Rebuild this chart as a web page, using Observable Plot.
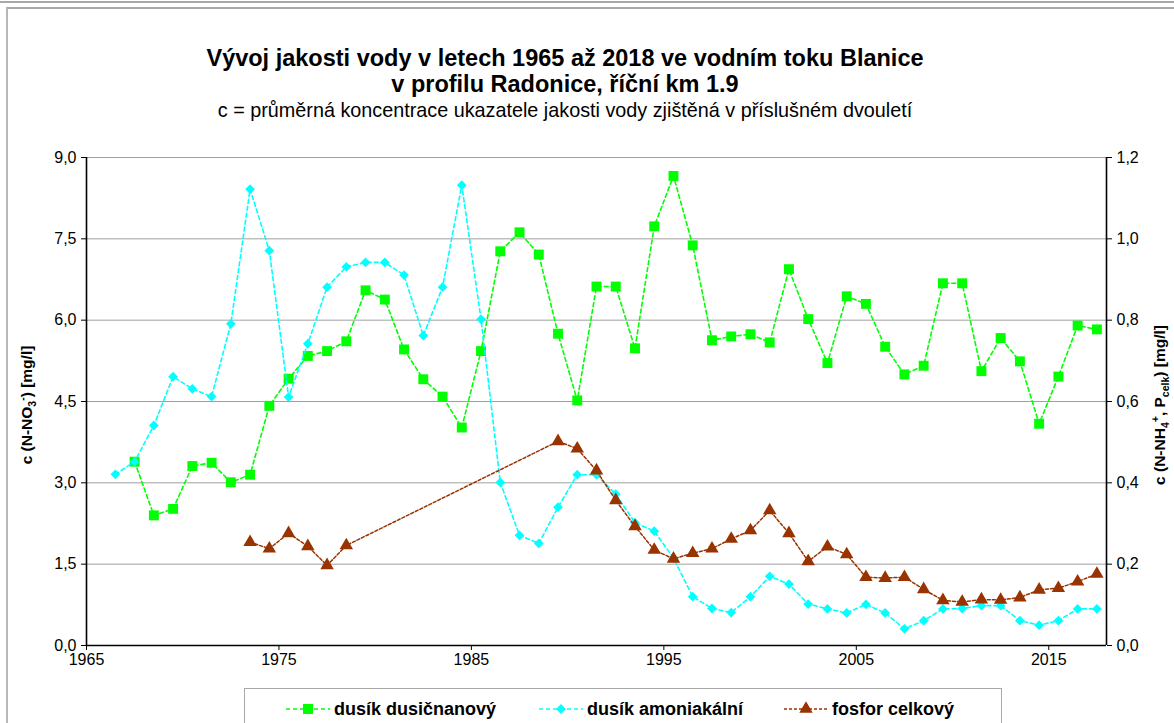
<!DOCTYPE html>
<html>
<head>
<meta charset="utf-8">
<script src="https://cdn.jsdelivr.net/npm/d3@7"></script>
<script src="https://cdn.jsdelivr.net/npm/@observablehq/plot@0.6"></script>
<style>
  html, body { margin: 0; padding: 0; background: #fff; }
  body { width: 1174px; height: 723px; position: relative; overflow: hidden; font-family: "Liberation Sans", Arial, sans-serif; color: #000; }
  .topline { position: absolute; left: 0; top: 1px; width: 1174px; height: 0; border-top: 2px solid #a8a8a8; }
  .box { position: absolute; left: 6px; top: 7px; width: 1200px; height: 800px; border-left: 2px solid #b8b8b8; border-top: 2px solid #a8a8a8; }
  .title { position: absolute; left: 0; width: 1130px; text-align: center; font-weight: bold; font-size: 23.5px; line-height: 26px; }
  .sub { position: absolute; left: 0; width: 1130px; text-align: center; font-size: 19.8px; line-height: 22px; }
  #chart { position: absolute; left: 0; top: 130px; }
  #chart svg text { font-size: 16px !important; font-family: "Liberation Sans", Arial, sans-serif !important; fill: #000; }
  .ytitle { position: absolute; font-weight: bold; font-size: 15.5px; white-space: nowrap; transform: translate(-50%, -50%) rotate(-90deg); }
  .ytitle sub, .ytitle sup { font-size: 10.5px; }
  .legend { position: absolute; left: 244px; top: 688px; width: 756px; height: 60px; border: 1px solid #a8a8a8; }
  .item { position: absolute; top: 8px; height: 24px; display: flex; align-items: center; }
  .item span { font-weight: bold; font-size: 18px; margin-left: 3px; }
</style>
</head>
<body>
<div class="topline"></div>
<div class="box"></div>
<div class="title" style="top:45px">Vývoj jakosti vody v letech 1965 až 2018 ve vodním toku Blanice</div>
<div class="title" style="top:71px">v profilu Radonice, říční km 1.9</div>
<div class="sub" style="top:99px">c = průměrná koncentrace ukazatele jakosti vody zjištěná v příslušném dvouletí</div>
<div id="chart"></div>
<div class="ytitle" style="left:27px; top:405px">c (N-NO<sub>3</sub><sup>-</sup>) [mg/l]</div>
<div class="ytitle" style="left:1160px; top:405px">c (N-NH<sub>4</sub><sup>+</sup>, P<sub>celk</sub>) [mg/l]</div>
<div class="legend" id="legend"></div>
<script>
// ---- data ----
const years = [1966.5, 1967.5, 1968.5, 1969.5, 1970.5, 1971.5, 1972.5, 1973.5, 1974.5, 1975.5,
  1976.5, 1977.5, 1978.5, 1979.5, 1980.5, 1981.5, 1982.5, 1983.5, 1984.5, 1985.5,
  1986.5, 1987.5, 1988.5, 1989.5, 1990.5, 1991.5, 1992.5, 1993.5, 1994.5, 1995.5,
  1996.5, 1997.5, 1998.5, 1999.5, 2000.5, 2001.5, 2002.5, 2003.5, 2004.5, 2005.5,
  2006.5, 2007.5, 2008.5, 2009.5, 2010.5, 2011.5, 2012.5, 2013.5, 2014.5, 2015.5,
  2016.5, 2017.5];
// dusík dusičnanový (left axis)
const nitrate = [null, 3.39, 2.40, 2.52, 3.31, 3.37, 3.01, 3.15, 4.42, 4.92,
  5.34, 5.43, 5.61, 6.55, 6.38, 5.46, 4.91, 4.59, 4.02, 5.43,
  7.27, 7.62, 7.21, 5.75, 4.52, 6.62, 6.62, 5.48, 7.73, 8.66,
  7.38, 5.63, 5.70, 5.74, 5.59, 6.94, 6.02, 5.21, 6.44, 6.30,
  5.51, 5.00, 5.16, 6.68, 6.68, 5.06, 5.67, 5.24, 4.09, 4.96,
  5.90, 5.83];
// dusík amoniakální (right axis)
const ammonium = [0.421, 0.452, 0.541, 0.661, 0.631, 0.612, 0.791, 1.122, 0.971, 0.611,
  0.742, 0.881, 0.931, 0.942, 0.942, 0.911, 0.762, 0.881, 1.132, 0.802,
  0.401, 0.271, 0.251, 0.340, 0.420, 0.420, 0.372, 0.302, 0.281, 0.215,
  0.120, 0.091, 0.081, 0.120, 0.170, 0.151, 0.102, 0.090, 0.080, 0.101,
  0.080, 0.041, 0.061, 0.090, 0.091, 0.098, 0.098, 0.061, 0.050, 0.061,
  0.090, 0.090];
// fosfor celkový (right axis)
const phosphorus = [null, null, null, null, null, null, null, 0.254, 0.238, 0.276,
  0.244, 0.197, 0.246, null, null, null, null, null, null, null,
  null, null, null, 0.502, 0.484, 0.430, 0.357, 0.293, 0.235, 0.213,
  0.227, 0.238, 0.262, 0.283, 0.332, 0.276, 0.207, 0.243, 0.224, 0.168,
  0.166, 0.168, 0.138, 0.111, 0.107, 0.113, 0.112, 0.118, 0.137, 0.141,
  0.157, 0.176];
const leftTicks = [0, 1.5, 3, 4.5, 6, 7.5, 9];
const rightTicks = [0, 0.2, 0.4, 0.6, 0.8, 1.0, 1.2];
const xTicks = [1965, 1975, 1985, 1995, 2005, 2015];
const seriesNames = ["dusík dusičnanový", "dusík amoniakální", "fosfor celkový"];
const colors = ["#00ff00", "#00ffff", "#993300"];

// ---- build ----
const k = 9 / 1.2; // right axis -> left axis
const rows = years.map((x, i) => ({x, n: nitrate[i], a: ammonium[i] == null ? null : ammonium[i] * k, p: phosphorus[i] == null ? null : phosphorus[i] * k}));
const N = rows.filter(d => d.n != null);
const A = rows.filter(d => d.a != null);
const P = rows.filter(d => d.p != null);
const fmt1 = d => d.toFixed(1).replace(".", ",");

const chart = Plot.plot({
  width: 1174, height: 550,
  marginLeft: 86, marginRight: 68, marginTop: 27, marginBottom: 35,
  x: {domain: [1965, 2018], label: null},
  y: {domain: [0, 9], label: null},
  style: {fontFamily: "'Liberation Sans', Arial, sans-serif", fontSize: "16px", color: "#000", background: "transparent", overflow: "visible"},
  marks: [
    Plot.gridY(leftTicks, {stroke: "#a0a0a0", strokeOpacity: 1, strokeWidth: 1}),
    Plot.axisY(leftTicks, {anchor: "left", tickFormat: fmt1, tickSize: 5, tickPadding: 5, label: null, stroke: "#000"}),
    Plot.axisY(rightTicks.map(v => v * k), {anchor: "right", tickFormat: d => fmt1(d / k), tickSize: 5, tickPadding: 5, label: null, stroke: "#000"}),
    Plot.axisX(xTicks, {tickFormat: d => String(d), tickSize: 5, tickPadding: 3, label: null, stroke: "#000"}),
    Plot.ruleX([1965, 2018], {stroke: "#000", strokeWidth: 1.6}),
    Plot.ruleY([0], {stroke: "#000", strokeWidth: 1.6}),
    Plot.line(N, {x: "x", y: "n", stroke: colors[0], strokeWidth: 1.6, strokeDasharray: "4,3"}),
    Plot.dot(N, {x: "x", y: "n", symbol: "square", r: 5.6, fill: colors[0], stroke: "none"}),
    Plot.line(A, {x: "x", y: "a", stroke: colors[1], strokeWidth: 1.6, strokeDasharray: "4,3"}),
    Plot.dot(A, {x: "x", y: "a", symbol: "diamond2", r: 4.4, fill: colors[1], stroke: "none"}),
    Plot.line(P, {x: "x", y: "p", stroke: colors[2], strokeWidth: 1.5, strokeDasharray: "3,2"}),
    Plot.dot(P, {x: "x", y: "p", symbol: "triangle", r: 5, fill: colors[2], stroke: "none"})
  ]
});
document.getElementById("chart").appendChild(chart);

// legend
const legend = document.getElementById("legend");
const lefts = [40, 293, 538];
const symbols = [d3.symbolSquare, d3.symbolDiamond2, d3.symbolTriangle];
const sizes = [100, 62, 78];
seriesNames.forEach((name, i) => {
  const item = document.createElement("div");
  item.className = "item";
  item.style.left = lefts[i] + "px";
  const path = d3.symbol(symbols[i], sizes[i])();
  item.innerHTML = `<svg width="46" height="20"><line x1="1" x2="45" y1="10" y2="10" stroke="${colors[i]}" stroke-width="1.5" stroke-dasharray="${i === 2 ? "3,2" : "4,3"}"/><path d="${path}" transform="translate(23,10)" fill="${colors[i]}"/></svg><span>${name}</span>`;
  legend.appendChild(item);
});
</script>
</body>
</html>
